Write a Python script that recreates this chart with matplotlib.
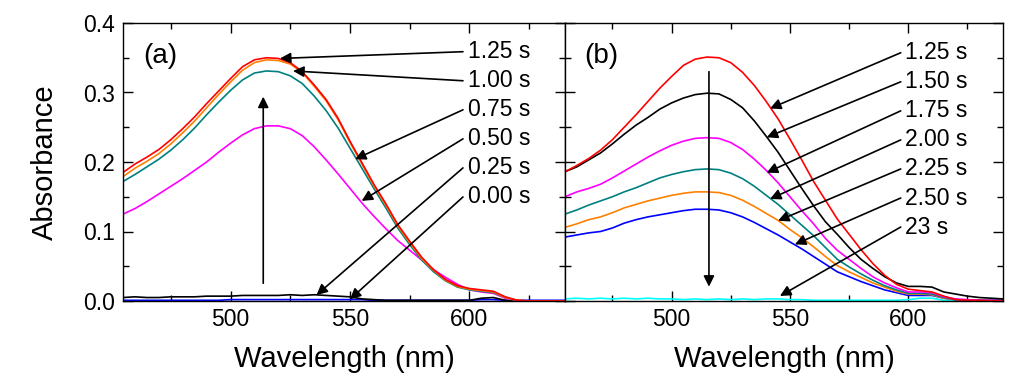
import numpy as np
import matplotlib
matplotlib.use("Agg")
import matplotlib.pyplot as plt
from matplotlib.ticker import MultipleLocator

plt.rcParams['font.family'] = ['Liberation Sans', 'DejaVu Sans']

# wavelength grid (nm), 455..640 in 5 nm steps
wl = [455, 460, 465, 470, 475, 480, 485, 490, 495, 500, 505, 510, 515, 520, 525,
      530, 535, 540, 545, 550, 555, 560, 565, 570, 575, 580, 585, 590, 595, 600,
      605, 610, 615, 620, 625, 630, 635, 640]

# panel (a): growth
a_125 = [0.185, 0.197, 0.207, 0.218, 0.232, 0.248, 0.265, 0.284, 0.302, 0.320, 0.337, 0.347, 0.350, 0.349, 0.343,
         0.330, 0.311, 0.290, 0.263, 0.230, 0.199, 0.168, 0.140, 0.110, 0.086, 0.063, 0.045, 0.031, 0.022, 0.018,
         0.016, 0.014, 0.006, 0.001, 0.000, 0.000, 0.000, 0.000]
a_100 = [0.179, 0.191, 0.201, 0.212, 0.226, 0.242, 0.259, 0.278, 0.297, 0.315, 0.332, 0.343, 0.347, 0.346, 0.341,
         0.329, 0.309, 0.288, 0.261, 0.228, 0.197, 0.166, 0.138, 0.108, 0.084, 0.061, 0.044, 0.030, 0.021, 0.017,
         0.015, 0.013, 0.005, 0.001, 0.000, 0.000, 0.000, 0.000]
a_075 = [0.172, 0.182, 0.193, 0.204, 0.217, 0.232, 0.249, 0.268, 0.286, 0.303, 0.318, 0.328, 0.331, 0.330, 0.324,
         0.313, 0.295, 0.274, 0.249, 0.220, 0.191, 0.162, 0.134, 0.105, 0.081, 0.059, 0.042, 0.029, 0.020, 0.016,
         0.014, 0.012, 0.005, 0.001, 0.000, 0.000, 0.000, 0.000]
a_050 = [0.125, 0.133, 0.143, 0.154, 0.165, 0.176, 0.188, 0.200, 0.214, 0.227, 0.239, 0.248, 0.252, 0.252, 0.248,
         0.238, 0.222, 0.203, 0.183, 0.162, 0.141, 0.122, 0.104, 0.087, 0.073, 0.059, 0.045, 0.034, 0.024, 0.016,
         0.013, 0.011, 0.004, 0.001, 0.000, 0.000, 0.000, 0.000]
a_025 = [0.005, 0.006, 0.005, 0.005, 0.006, 0.006, 0.006, 0.007, 0.007, 0.007, 0.008, 0.008, 0.008, 0.008, 0.009,
         0.008, 0.009, 0.008, 0.007, 0.006, 0.003, 0.002, 0.001, 0.001, 0.001, 0.001, 0.001, 0.001, 0.001, 0.001,
         0.004, 0.005, 0.001, 0.000, 0.000, 0.000, 0.000, 0.000]
a_000 = [0.001, 0.001, 0.001, 0.001, 0.001, 0.001, 0.001, 0.001, 0.001, 0.002, 0.002, 0.002, 0.002, 0.002, 0.002,
         0.002, 0.002, 0.002, 0.002, 0.002, 0.002, 0.001, 0.001, 0.001, 0.001, 0.001, 0.001, 0.001, 0.001, 0.001,
         0.002, 0.002, 0.001, 0.001, 0.001, 0.001, 0.001, 0.001]

# panel (b): decay
b_125 = [0.186, 0.195, 0.205, 0.217, 0.232, 0.250, 0.268, 0.287, 0.306, 0.323, 0.339, 0.348, 0.351, 0.350, 0.343,
         0.329, 0.310, 0.287, 0.262, 0.233, 0.203, 0.172, 0.145, 0.118, 0.096, 0.074, 0.054, 0.037, 0.024, 0.017,
         0.015, 0.013, 0.007, 0.002, 0.001, 0.001, 0.000, 0.000]
b_150 = [0.186, 0.193, 0.203, 0.213, 0.226, 0.240, 0.253, 0.264, 0.276, 0.285, 0.292, 0.297, 0.299, 0.298, 0.290,
         0.278, 0.259, 0.237, 0.214, 0.188, 0.162, 0.137, 0.114, 0.096, 0.077, 0.060, 0.047, 0.035, 0.026, 0.021,
         0.021, 0.020, 0.013, 0.010, 0.007, 0.005, 0.004, 0.003]
b_175 = [0.150, 0.157, 0.162, 0.168, 0.177, 0.187, 0.197, 0.207, 0.216, 0.224, 0.230, 0.234, 0.235, 0.234, 0.228,
         0.218, 0.204, 0.188, 0.170, 0.150, 0.130, 0.111, 0.090, 0.073, 0.060, 0.047, 0.035, 0.026, 0.019, 0.013,
         0.013, 0.012, 0.006, 0.003, 0.002, 0.001, 0.001, 0.001]
b_200 = [0.125, 0.131, 0.138, 0.144, 0.150, 0.157, 0.163, 0.170, 0.177, 0.182, 0.186, 0.189, 0.190, 0.189, 0.184,
         0.176, 0.165, 0.152, 0.139, 0.124, 0.109, 0.094, 0.077, 0.060, 0.049, 0.039, 0.030, 0.022, 0.016, 0.011,
         0.011, 0.010, 0.005, 0.002, 0.001, 0.001, 0.001, 0.001]
b_225 = [0.106, 0.111, 0.117, 0.121, 0.127, 0.134, 0.139, 0.144, 0.148, 0.152, 0.155, 0.157, 0.157, 0.156, 0.152,
         0.145, 0.136, 0.126, 0.116, 0.103, 0.091, 0.078, 0.064, 0.051, 0.042, 0.034, 0.026, 0.020, 0.014, 0.010,
         0.010, 0.009, 0.004, 0.002, 0.001, 0.001, 0.001, 0.001]
b_250 = [0.092, 0.095, 0.098, 0.100, 0.105, 0.112, 0.117, 0.121, 0.124, 0.127, 0.130, 0.132, 0.132, 0.131, 0.127,
         0.121, 0.113, 0.104, 0.095, 0.085, 0.075, 0.064, 0.053, 0.042, 0.035, 0.028, 0.022, 0.016, 0.012, 0.008,
         0.008, 0.008, 0.004, 0.002, 0.001, 0.001, 0.001, 0.001]
b_23 = [0.003, 0.004, 0.003, 0.004, 0.003, 0.004, 0.003, 0.004, 0.003, 0.003, 0.002, 0.003, 0.002, 0.003, 0.002,
        0.003, 0.002, 0.003, 0.003, 0.002, 0.002, 0.001, 0.001, 0.001, 0.001, 0.001, 0.001, 0.001, 0.001, 0.002,
        0.004, 0.004, 0.001, 0.001, 0.001, 0.001, 0.001, 0.001]

series_a = [a_000, a_025, a_050, a_075, a_100, a_125]
colors_a = ['#0000ff', '#000000', '#ff00ff', '#008080', '#ff8000', '#ff0000']
labels_a = ['1.25 s', '1.00 s', '0.75 s', '0.50 s', '0.25 s', '0.00 s']
# arrow tips (nm, absorbance) for each label of panel (a)
tips_a = [(520.7, 0.349), (526.2, 0.331), (552.1, 0.204), (554.9, 0.144), (536.0, 0.0086), (550.0, 0.0024)]

series_b = [b_23, b_250, b_225, b_200, b_175, b_150, b_125]
colors_b = ['#00ffff', '#0000ff', '#ff8000', '#008080', '#ff00ff', '#000000', '#ff0000']
labels_b = ['1.25 s', '1.50 s', '1.75 s', '2.00 s', '2.25 s', '2.50 s', '23 s']
tips_b = [(541.6, 0.277), (540.2, 0.2355), (540.2, 0.1846), (541.6, 0.1468), (545.0, 0.1155), (552.1, 0.0815), (545.8, 0.0072)]

fig = plt.figure(figsize=(10.24, 3.91), dpi=100)
ax1 = fig.add_axes([123/1024, 1-301/391, 442/1024, 278/391])
ax2 = fig.add_axes([565/1024, 1-301/391, 438/1024, 278/391])

for s, c in zip(series_a, colors_a):
    ax1.plot(wl, s, color=c, lw=1.2)
for s, c in zip(series_b, colors_b):
    ax2.plot(wl, s, color=c, lw=1.2)

arrow = dict(arrowstyle='-|>', color='black', lw=1.2, mutation_scale=16, shrinkA=0, shrinkB=0)

def label_arrows(ax, labels, tips, y0, tail_x, text_x):
    for i, (lab, tip) in enumerate(zip(labels, tips)):
        y = y0 - i * 0.0418
        ax.annotate('', xy=tip, xytext=(tail_x, y), arrowprops=arrow)
        ax.text(text_x, y, lab, fontsize=16.5, va='center', ha='left')

label_arrows(ax1, labels_a, tips_a, 0.3587, 597.3, 599.2)
label_arrows(ax2, labels_b, tips_b, 0.3572, 596.8, 598.8)

ax1.annotate('', xy=(513.7, 0.294), xytext=(513.7, 0.0255), arrowprops=arrow)
ax2.annotate('', xy=(515.8, 0.0206), xytext=(515.8, 0.330), arrowprops=arrow)

ax1.text(0.045, 0.88, '(a)', transform=ax1.transAxes, fontsize=20, va='center', ha='left')
ax2.text(0.045, 0.88, '(b)', transform=ax2.transAxes, fontsize=20, va='center', ha='left')

for ax in (ax1, ax2):
    ax.set_xlim(455, 640)
    ax.set_ylim(0, 0.4)
    ax.xaxis.set_major_locator(MultipleLocator(50))
    ax.xaxis.set_minor_locator(MultipleLocator(25))
    ax.yaxis.set_major_locator(MultipleLocator(0.1))
    ax.yaxis.set_minor_locator(MultipleLocator(0.05))
    ax.tick_params(which='both', direction='in', top=True, right=True, width=1.0)
    ax.tick_params(which='major', length=7, labelsize=16.5, pad=6)
    ax.tick_params(which='minor', length=4)
    for sp in ax.spines.values():
        sp.set_linewidth(1.0)
    ax.set_xlabel('Wavelength (nm)', fontsize=21, labelpad=10)

ax1.tick_params(axis='x', pad=5)
ax2.tick_params(axis='x', pad=5)
ax1.yaxis.set_major_formatter(matplotlib.ticker.FormatStrFormatter('%.1f'))
ax2.set_yticklabels([])
ax1.set_ylabel('Absorbance', fontsize=21, labelpad=17)

fig.savefig('out.png', dpi=100)
